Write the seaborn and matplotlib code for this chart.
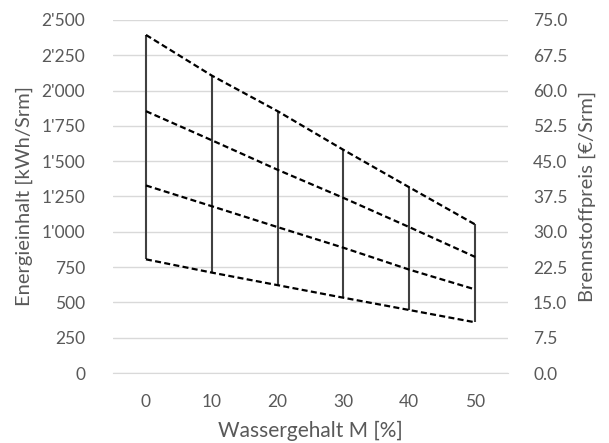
import numpy as np
import pandas as pd
import matplotlib
matplotlib.use("Agg")
import matplotlib.pyplot as plt
import seaborn as sns
from matplotlib.ticker import FuncFormatter, FixedLocator

# data
wassergehalt = ["0", "10", "20", "30", "40", "50"]
linie_1 = [2394, 2106, 1854, 1580, 1315, 1052]
linie_2 = [1854, 1648, 1439, 1240, 1033, 822]
linie_3 = [1328, 1181, 1033, 887, 732, 592]
linie_4 = [805, 711, 622, 533, 446, 359]

left_ticks = list(range(0, 2501, 250))
right_ticks = [0.0, 7.5, 15.0, 22.5, 30.0, 37.5, 45.0, 52.5, 60.0, 67.5, 75.0]

grey = "#595959"

sns.set_style("white")
plt.rcParams["font.family"] = ["Lato", "DejaVu Sans"]

df = pd.DataFrame({"pos": np.arange(len(wassergehalt)),
                   "l1": linie_1, "l2": linie_2, "l3": linie_3, "l4": linie_4})
long = df.melt(id_vars="pos", var_name="serie", value_name="wert")

fig = plt.figure(figsize=(6.09, 4.43), dpi=100)
ax = fig.add_axes([0.1856, 0.158, 0.6486, 0.797])

# high-low lines
ax.vlines(df["pos"], df["l4"], df["l1"], color="#404040", lw=1.5, zorder=2)

sns.lineplot(data=long, x="pos", y="wert", units="serie", estimator=None,
             color="black", lw=1.6, ax=ax, zorder=3)
for ln in ax.get_lines():
    ln.set_dashes([2.7, 1.5])

ax.set_xlim(-0.5, len(wassergehalt) - 0.5)
ax.set_ylim(0, 2500)
ax.set_yticks(left_ticks)
ax.yaxis.set_major_formatter(FuncFormatter(lambda v, p: f"{v:,.0f}".replace(",", "'")))
ax.set_xticks(df["pos"])
ax.set_xticklabels(wassergehalt)
ax.xaxis.set_minor_locator(FixedLocator(np.arange(-0.5, len(wassergehalt), 1.0)))
ax.tick_params(axis="x", which="major", length=0, pad=15, labelsize=12.5, colors=grey)
ax.tick_params(axis="x", which="minor", length=4, color="#d9d9d9", width=1)
ax.tick_params(axis="y", length=0, pad=20, labelsize=12.5, colors=grey)
ax.grid(axis="y", color="#d9d9d9", lw=1)
ax.set_axisbelow(True)
for s in ["top", "left", "right"]:
    ax.spines[s].set_visible(False)
ax.spines["bottom"].set_color("#d9d9d9")
ax.set_xlabel("Wassergehalt M [%]", fontsize=15, color=grey, labelpad=8)
ax.set_ylabel("Energieinhalt [kWh/Srm]", fontsize=14.5, color=grey, labelpad=6)

ax2 = ax.twinx()
ax2.set_ylim(0, 75)
ax2.set_yticks(right_ticks)
ax2.yaxis.set_major_formatter(FuncFormatter(lambda v, p: f"{v:.1f}"))
ax2.tick_params(axis="y", length=0, pad=18, labelsize=12.5, colors=grey)
for s in ax2.spines.values():
    s.set_visible(False)
ax2.set_ylabel("Brennstoffpreis [€/Srm]", fontsize=14.5, color=grey, labelpad=8)

fig.savefig("out.png", dpi=100)
